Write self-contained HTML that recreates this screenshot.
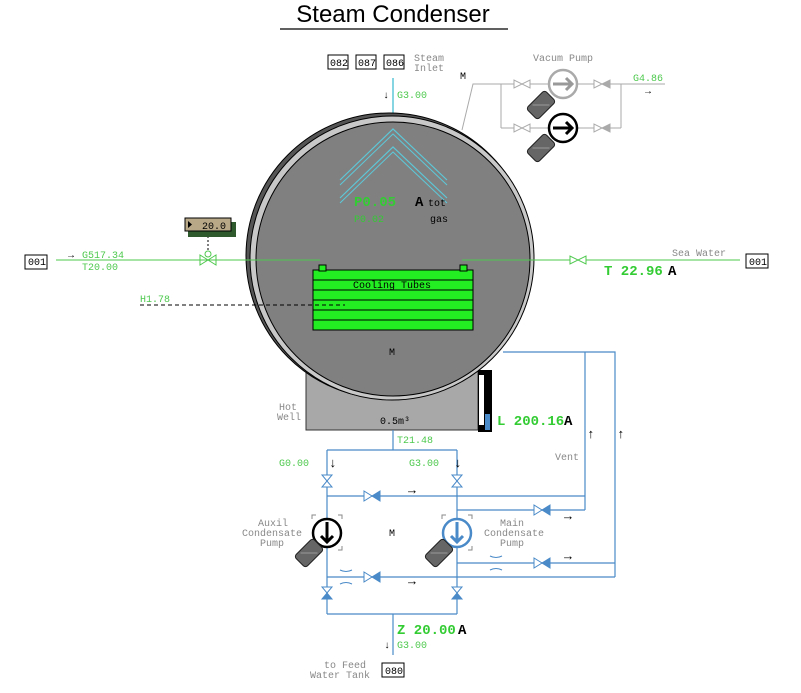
<!DOCTYPE html>
<html><head><meta charset="utf-8"><style>
html,body{margin:0;padding:0;background:#fff;}
svg{display:block;font-family:"Liberation Mono",monospace;}
.g{fill:#4ec94e;font-size:10px;}
.gb{fill:#33cc33;font-size:14px;font-weight:bold;}
.gy{fill:#888;font-size:10px;}
.k{fill:#000;font-size:10px;}
.kb{fill:#000;font-size:14px;font-weight:bold;}
</style></head><body>
<svg width="801" height="693" viewBox="0 0 801 693" xmlns="http://www.w3.org/2000/svg">
<defs>
<g id="vv"><path d="M-5,-6 L5,-6 L-5,6 L5,6 Z" fill="#fff" stroke="#4a8ac8" stroke-width="1"/></g>
<g id="vvf"><path d="M-5,-6 L5,-6 L0,0 Z" fill="#fff" stroke="#4a8ac8"/><path d="M-5,6 L5,6 L0,0 Z" fill="#4a8ac8" stroke="#4a8ac8"/></g>
<g id="hv"><path d="M-8,-5 L-8,5 L0,0 Z" fill="#fff" stroke="#4a8ac8"/><path d="M8,-5 L8,5 L0,0 Z" fill="#4a8ac8" stroke="#4a8ac8"/></g>
<g id="motor"><rect x="-13" y="-8" width="26" height="16" rx="3" fill="#666" stroke="#222" transform="rotate(-45)"/><line x1="-6" y1="-6" x2="6" y2="6" stroke="#999" transform="rotate(-45)"/></g>
</defs>
<text x="393" y="22" text-anchor="middle" font-family="Liberation Sans,sans-serif" font-size="24" fill="#000">Steam Condenser</text>
<line x1="280" y1="29" x2="508" y2="29" stroke="#000" stroke-width="1.2"/>

<rect x="328" y="55" width="20" height="14" fill="#fff" stroke="#000"/><text x="330" y="66" class="k">082</text>
<rect x="356" y="55" width="20" height="14" fill="#fff" stroke="#000"/><text x="358" y="66" class="k">087</text>
<rect x="384" y="55" width="20" height="14" fill="#fff" stroke="#000"/><text x="386" y="66" class="k">086</text>
<text x="414" y="61" class="gy">Steam</text><text x="414" y="71" class="gy">Inlet</text>
<line x1="393" y1="78" x2="393" y2="125" stroke="#5cc8d8" stroke-width="1.5"/>
<text x="383" y="98" class="k" font-size="13">↓</text><text x="397" y="98" class="g">G3.00</text>

<rect x="306" y="360" width="172" height="70" fill="#a8a8a8" stroke="#333"/>

<circle cx="389" cy="256" r="143" fill="#555" stroke="#000"/>
<circle cx="392" cy="258" r="142" fill="#c8c8c8" stroke="#000"/>
<circle cx="393" cy="259" r="137" fill="#808080" stroke="#000" stroke-width="1"/>
<polyline points="340,180 393,129 447,180" fill="none" stroke="#5cc8d8" stroke-width="1.2"/>
<polyline points="340,185 393,134 447,185" fill="none" stroke="#5cc8d8" stroke-width="1"/>
<polyline points="340,198 393,147 447,198" fill="none" stroke="#5cc8d8" stroke-width="1.2"/>
<polyline points="340,203 393,152 447,203" fill="none" stroke="#5cc8d8" stroke-width="1"/>
<text x="354" y="206" class="gb">P0.05</text><text x="415" y="206" class="kb">A</text><text x="428" y="206" class="k">tot</text>
<text x="354" y="222" fill="#3c3" font-size="10">P0.02</text><text x="430" y="222" class="k">gas</text>
<text x="389" y="355" class="k">M</text>

<text x="380" y="424" class="k" font-size="11">0.5m³</text>
<text x="279" y="410" class="gy">Hot</text><text x="277" y="420" class="gy">Well</text>
<rect x="478" y="370" width="14" height="62" fill="#000"/>
<rect x="479" y="375" width="5" height="50" fill="#fff"/>
<rect x="485" y="414" width="5" height="16" fill="#4a8ac8"/>
<text x="497" y="425" class="gb">L 200.16</text><text x="564" y="425" class="kb">A</text>

<rect x="25" y="255" width="22" height="14" fill="#fff" stroke="#000"/><text x="28" y="265" class="k">001</text>
<line x1="56" y1="260" x2="320" y2="260" stroke="#4ec94e"/>
<text x="68" y="258" class="k" font-size="13">→</text><text x="82" y="258" class="g">G517.34</text>
<text x="82" y="270" class="g">T20.00</text>
<path d="M200,255 L200,265 L216,255 L216,265 Z" fill="none" stroke="#4ec94e"/>
<circle cx="208" cy="254" r="3" fill="none" stroke="#4ec94e"/>
<line x1="208" y1="232" x2="208" y2="250" stroke="#000" stroke-dasharray="2,2"/>
<rect x="188" y="222" width="48" height="15" fill="#2e5a2e"/>
<rect x="185" y="218" width="46" height="13" fill="#b8a888" stroke="#000"/>
<path d="M188,221 L192,224.5 L188,228 Z" fill="#000"/>
<text x="202" y="229" class="k">20.0</text>
<line x1="462" y1="260" x2="740" y2="260" stroke="#4ec94e"/>
<path d="M570,256 L570,264 L586,256 L586,264 Z" fill="#fff" stroke="#4ec94e"/>
<text x="672" y="256" class="gy">Sea Water</text>
<rect x="746" y="254" width="22" height="14" fill="#fff" stroke="#000"/><text x="749" y="265" class="k">001</text>
<text x="604" y="275" class="gb">T 22.96</text><text x="668" y="275" class="kb">A</text>

<rect x="313" y="270" width="160" height="60" fill="#22ee22" stroke="#000"/>
<rect x="319" y="265" width="7" height="6" fill="#22ee22" stroke="#000"/>
<rect x="460" y="265" width="7" height="6" fill="#22ee22" stroke="#000"/>
<g stroke="#000"><line x1="313" y1="280" x2="473" y2="280"/><line x1="313" y1="290" x2="473" y2="290"/><line x1="313" y1="300" x2="473" y2="300"/><line x1="313" y1="310" x2="473" y2="310"/><line x1="313" y1="320" x2="473" y2="320"/></g>
<text x="353" y="288" class="k">Cooling Tubes</text>
<text x="140" y="302" class="g">H1.78</text>
<line x1="140" y1="305" x2="345" y2="305" stroke="#000" stroke-dasharray="4,3"/>

<text x="460" y="79" class="k">M</text>
<polyline points="462,130 473,84 640,84" fill="none" stroke="#aaa"/>
<line x1="501" y1="84" x2="501" y2="128" stroke="#aaa"/>
<line x1="501" y1="128" x2="621" y2="128" stroke="#aaa"/>
<line x1="621" y1="84" x2="621" y2="128" stroke="#aaa"/>
<line x1="621" y1="84" x2="665" y2="84" stroke="#aaa"/>
<text x="533" y="61" class="gy">Vacum Pump</text>
<text x="633" y="81" class="g">G4.86</text><text x="645" y="94" class="k" font-size="13">→</text>
<path d="M514,80 L514,88 L530,80 L530,88 Z" fill="#fff" stroke="#aaa"/>
<path d="M514,124 L514,132 L530,124 L530,132 Z" fill="#fff" stroke="#aaa"/>
<path d="M594,80 L594,88 L602,84 Z" fill="#fff" stroke="#aaa"/><path d="M610,80 L610,88 L602,84 Z" fill="#aaa" stroke="#aaa"/>
<path d="M594,124 L594,132 L602,128 Z" fill="#fff" stroke="#aaa"/><path d="M610,124 L610,132 L602,128 Z" fill="#aaa" stroke="#aaa"/>
<circle cx="563" cy="84" r="14" fill="#fff" stroke="#aaa" stroke-width="2.5"/>
<path d="M553,84 L572,84 M566,78 L572,84 L566,90" stroke="#999" stroke-width="3" fill="none"/>
<circle cx="563" cy="128" r="14" fill="#fff" stroke="#000" stroke-width="2.5"/>
<path d="M553,128 L572,128 M566,122 L572,128 L566,134" stroke="#000" stroke-width="3" fill="none"/>
<g transform="translate(541,105)"><use href="#motor"/></g>
<g transform="translate(541,148)"><use href="#motor"/></g>

<g stroke="#4a8ac8" stroke-width="1.2" fill="none">
<line x1="393" y1="430" x2="393" y2="450"/>
<line x1="327" y1="450" x2="457" y2="450"/>
<line x1="327" y1="450" x2="327" y2="614"/>
<line x1="457" y1="450" x2="457" y2="614"/>
<line x1="327" y1="614" x2="457" y2="614"/>
<line x1="393" y1="614" x2="393" y2="655"/>
<line x1="327" y1="496" x2="585" y2="496"/>
<line x1="457" y1="510" x2="585" y2="510"/>
<polyline points="503,352 615,352 615,577"/>
<line x1="585" y1="352" x2="585" y2="510"/>
<line x1="457" y1="563" x2="615" y2="563"/>
<line x1="327" y1="577" x2="615" y2="577"/>
</g>
<g transform="translate(327,481)"><use href="#vv"/></g>
<g transform="translate(457,481)"><use href="#vv"/></g>
<g transform="translate(327,593)"><use href="#vvf"/></g>
<g transform="translate(457,593)"><use href="#vvf"/></g>
<g transform="translate(372,496)"><use href="#hv"/></g>
<g transform="translate(372,577)"><use href="#hv"/></g>
<g transform="translate(542,510)"><use href="#hv"/></g>
<g transform="translate(542,563)"><use href="#hv"/></g>
<path d="M340,570 Q346,573 352,570 M340,584 Q346,581 352,584" stroke="#4a8ac8" fill="none"/>
<path d="M490,556 Q496,559 502,556 M490,570 Q496,567 502,570" stroke="#4a8ac8" fill="none"/>
<g fill="#000" font-size="13"><text x="408" y="494">→</text><text x="408" y="585">→</text><text x="564" y="520">→</text><text x="564" y="560">→</text>
<text x="587" y="438">↑</text><text x="617" y="438">↑</text>
<text x="329" y="467">↓</text><text x="454" y="467">↓</text></g>
<text x="397" y="443" class="g">T21.48</text>
<text x="279" y="466" class="g">G0.00</text><text x="409" y="466" class="g">G3.00</text>
<text x="555" y="460" class="gy">Vent</text>
<path d="M312,519 l0,-4 l4,0 M338,515 l4,0 l0,4 M312,546 l0,4 l4,0 M338,550 l4,0 l0,-4" stroke="#888" fill="none"/>
<circle cx="327" cy="533" r="14" fill="#fff" stroke="#000" stroke-width="2.5"/>
<path d="M327,522 L327,542 M321,536 L327,542 L333,536" stroke="#000" stroke-width="3" fill="none"/>
<path d="M442,519 l0,-4 l4,0 M468,515 l4,0 l0,4 M442,546 l0,4 l4,0 M468,550 l4,0 l0,-4" stroke="#888" fill="none"/>
<circle cx="457" cy="533" r="14" fill="#fff" stroke="#4a8ac8" stroke-width="2.5"/>
<path d="M457,522 L457,542 M451,536 L457,542 L463,536" stroke="#4a8ac8" stroke-width="3" fill="none"/>
<g transform="translate(309,553)"><use href="#motor"/></g>
<g transform="translate(439,553)"><use href="#motor"/></g>
<text x="389" y="536" class="k">M</text>
<text x="258" y="526" class="gy">Auxil</text><text x="242" y="536" class="gy">Condensate</text><text x="260" y="546" class="gy">Pump</text>
<text x="500" y="526" class="gy">Main</text><text x="484" y="536" class="gy">Condensate</text><text x="500" y="546" class="gy">Pump</text>
<text x="397" y="634" class="gb">Z 20.00</text><text x="458" y="634" class="kb">A</text>
<text x="384" y="648" class="k" font-size="13">↓</text><text x="397" y="648" class="g">G3.00</text>
<text x="324" y="668" class="gy">to Feed</text><text x="310" y="678" class="gy">Water Tank</text>
<rect x="382" y="663" width="22" height="14" fill="#fff" stroke="#000"/><text x="385" y="674" class="k">080</text>
</svg>
</body></html>
